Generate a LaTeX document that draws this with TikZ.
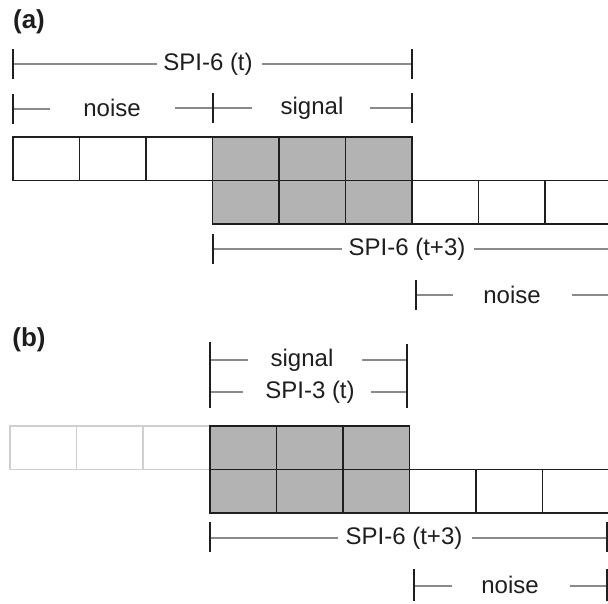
\documentclass[tikz,border=0pt]{standalone}
\usepackage{fontspec}
\setmainfont{Liberation Sans}
\definecolor{ink}{HTML}{1E1E1E}
\definecolor{rulegray}{HTML}{8A8A8A}
\definecolor{shade}{HTML}{B3B3B3}
\definecolor{faint}{HTML}{CFCFCF}
\begin{document}
\begin{tikzpicture}[x=1pt,y=-1pt,
  cell/.style={draw=ink,line width=1.8pt,fill=white,minimum width=66.5pt,
    minimum height=43.5pt,inner sep=0pt,outer sep=0pt,anchor=north west},
  sigcell/.style={cell,fill=shade},
  ghost/.style={cell,draw=faint,line width=1.3pt},
  lbl/.style={font=\fontsize{24}{26}\selectfont,text=ink,inner sep=0pt},
  panel/.style={font=\fontsize{26}{28}\selectfont\bfseries,text=ink,inner sep=0pt},
  bar/.style={draw=ink,line width=1.8pt},
  rule/.style={draw=rulegray,line width=1.4pt}]
\useasboundingbox (0,0) rectangle (608,603);

% ---------------- panel (a) ----------------
\node[panel] (pa) at (29,22) {(a)};

% cells: noise, signal (two rows), noise
\foreach \i/\x in {0/13,1/79.5,2/146}
  \node[cell] (an\i) at (\x,137) {};
\foreach \i/\x in {0/212.5,1/279,2/345.5}{
  \node[sigcell] (as\i) at (\x,137) {};
  \node[sigcell] (at\i) at (\x,180.5) {};}
\foreach \i/\x in {0/412,1/478.5,2/545}
  \node[cell] (am\i) at (\x,180.5) {};

% SPI-6 (t)
\coordinate (a1l) at (13,64);   \coordinate (a1r) at (412,64);
\node[lbl] (a1t) at (208,64) {SPI-6 (t)};
\coordinate (a1p) at (157,64);  \coordinate (a1q) at (262,64);
\draw[rule] (a1l) -- (a1p);  \draw[rule] (a1q) -- (a1r);
\draw[bar] ([yshift=-15pt]a1l) -- ([yshift=15pt]a1l);
\draw[bar] ([yshift=-15pt]a1r) -- ([yshift=15pt]a1r);

% noise | signal
\coordinate (a2l) at (13,109);  \coordinate (a2m) at (213,108);  \coordinate (a2r) at (412,108);
\node[lbl] (a2n) at (112,108) {noise};
\node[lbl] (a2s) at (312,108) {signal};
\coordinate (a2p) at (50,109);  \coordinate (a2q) at (175,108);
\coordinate (a2u) at (252,108); \coordinate (a2v) at (370,108);
\draw[rule] (a2l) -- (a2p);
\draw[rule] (a2q) -- (a2u);
\draw[rule] (a2v) -- (a2r);
\draw[bar] ([yshift=-15pt]a2l) -- ([yshift=15pt]a2l);
\draw[bar] ([yshift=-15pt]a2m) -- ([yshift=15pt]a2m);
\draw[bar] ([yshift=-15pt]a2r) -- ([yshift=15pt]a2r);

% SPI-6 (t+3)
\coordinate (a3l) at (213,249); \coordinate (a3r) at (610,249);
\node[lbl] (a3t) at (407,249) {SPI-6 (t+3)};
\coordinate (a3p) at (342,249); \coordinate (a3q) at (474,249);
\draw[rule] (a3l) -- (a3p);  \draw[rule] (a3q) -- (a3r);
\draw[bar] ([yshift=-15pt]a3l) -- ([yshift=15pt]a3l);

% noise
\coordinate (a4l) at (416,295); \coordinate (a4r) at (610,295);
\node[lbl] (a4t) at (512,295) {noise};
\coordinate (a4p) at (453,295); \coordinate (a4q) at (572,295);
\draw[rule] (a4l) -- (a4p);  \draw[rule] (a4q) -- (a4r);
\draw[bar] ([yshift=-15pt]a4l) -- ([yshift=15pt]a4l);

% ---------------- panel (b) ----------------
\node[panel] (pb) at (29,340) {(b)};

\foreach \i/\x in {0/10,1/76.5,2/143}
  \node[ghost] (bn\i) at (\x,426) {};
\foreach \i/\x in {0/210,1/276.5,2/343}{
  \node[sigcell] (bs\i) at (\x,426) {};
  \node[sigcell] (bt\i) at (\x,469.5) {};}
\foreach \i/\x in {0/409.5,1/476,2/542.5}
  \node[cell] (bm\i) at (\x,469.5) {};

% signal / SPI-3 (t)
\coordinate (b1l) at (210,360); \coordinate (b1r) at (407,360);
\coordinate (b2l) at (210,392); \coordinate (b2r) at (407,392);
\node[lbl] (b1t) at (302,360) {signal};
\node[lbl] (b2t) at (310,392) {SPI-3 (t)};
\coordinate (b1p) at (248,360); \coordinate (b1q) at (362,360);
\coordinate (b2p) at (243,392); \coordinate (b2q) at (371,392);
\draw[rule] (b1l) -- (b1p);  \draw[rule] (b1q) -- (b1r);
\draw[rule] (b2l) -- (b2p);  \draw[rule] (b2q) -- (b2r);
\draw[bar] (210,342) -- (210,408);
\draw[bar] (407,344) -- (407,408);

% SPI-6 (t+3)
\coordinate (b3l) at (210,538); \coordinate (b3r) at (607,538);
\node[lbl] (b3t) at (404,538) {SPI-6 (t+3)};
\coordinate (b3p) at (338,538); \coordinate (b3q) at (472,538);
\draw[rule] (b3l) -- (b3p);  \draw[rule] (b3q) -- (b3r);
\draw[bar] ([yshift=-14pt]b3l) -- ([yshift=16pt]b3l);
\draw[bar] ([yshift=-14pt]b3r) -- ([yshift=16pt]b3r);

% noise
\coordinate (b4l) at (414,586); \coordinate (b4r) at (607,586);
\node[lbl] (b4t) at (510,585) {noise};
\coordinate (b4p) at (452,586); \coordinate (b4q) at (570,586);
\draw[rule] (b4l) -- (b4p);  \draw[rule] (b4q) -- (b4r);
\draw[bar] ([yshift=-15pt]b4l) -- ([yshift=17pt]b4l);
\draw[bar] ([yshift=-15pt]b4r) -- ([yshift=17pt]b4r);
\end{tikzpicture}
\end{document}
